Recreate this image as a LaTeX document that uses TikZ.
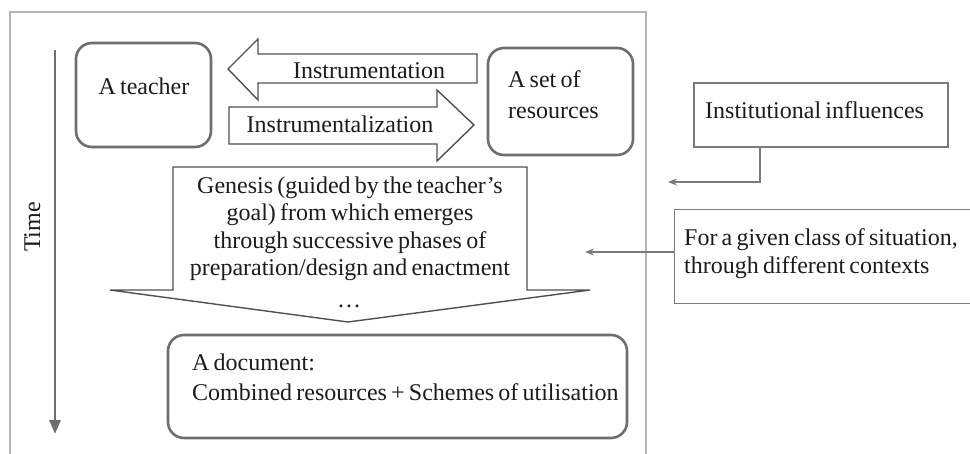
\documentclass[tikz,border=0pt]{standalone}
\usepackage{fontspec}
\setmainfont{Liberation Serif}[WordSpace=0.7]
\usetikzlibrary{arrows.meta}
\definecolor{boxgray}{HTML}{6E6E6E}
\definecolor{shapegray}{HTML}{505050}
\definecolor{framegray}{HTML}{B4B4B4}
\definecolor{linkgray}{HTML}{7A7A7A}
\definecolor{ink}{HTML}{1C1C1C}
\begin{document}
\begin{tikzpicture}[x=1pt,y=-1pt,
  every node/.style={text=ink, font=\fontsize{24pt}{27pt}\selectfont, inner sep=0pt},
  roundbox/.style={draw=boxgray, line width=2.6pt, rounded corners=16pt},
  bigarrow/.style={draw=shapegray, line width=1.4pt, line join=miter},
  infobox/.style={draw=linkgray, line width=1.3pt},
  link/.style={draw=linkgray, line width=1.5pt, -{Stealth[length=9pt,width=7pt]}},
  frameline/.style={draw=framegray, line width=1.2pt}]
\useasboundingbox (0,0) rectangle (970,453);
\clip (0,0) rectangle (970,453);
\fill[white] (0,0) rectangle (970,453);

% outer frame (open at the bottom)
\draw[frameline] (10,470) -- (10,12) -- (646,12) -- (646,470);

% time axis
\draw[draw=boxgray, line width=2.8pt, -{Triangle[length=14pt,width=11pt]}] (55,50) -- (55,434);
\node[rotate=90, anchor=base] (time) at (40,227) {Time};

% actors
\draw[roundbox] (76,43) rectangle (211,147);
\node[anchor=base] (teacher) at (144,94) {A teacher};
\draw[roundbox] (488,48) rectangle (633,155);
\node[anchor=base west] (res1) at (508,87) {A set of};
\node[anchor=base west] (res2) at (508,118) {resources};

% instrumentation / instrumentalization block arrows
\draw[bigarrow] (228,69) -- (258,39) -- (258,54) -- (477,54) -- (477,83)
  -- (258,83) -- (258,100) -- cycle;
\node[anchor=base] (instr) at (369,78) {Instrumentation};
\draw[bigarrow] (229,107) -- (437,107) -- (437,90) -- (474,125) -- (437,161)
  -- (437,144) -- (229,144) -- cycle;
\node[anchor=base] (instrz) at (340,132) {Instrumentalization};

% genesis down arrow
\draw[bigarrow] (173,167) -- (527,167) -- (527,290) -- (590,290) -- (348,322)
  -- (110,290) -- (173,290) -- cycle;
\node[anchor=base] (g1) at (350,193) {Genesis (guided by the teacher’s};
\node[anchor=base] (g2) at (350,220.5) {goal) from which emerges};
\node[anchor=base] (g3) at (350,248) {through successive phases of};
\node[anchor=base] (g4) at (350,275) {preparation/design and enactment};
\node[anchor=base] (g5) at (349,307) {…};

% resulting document
\draw[roundbox] (168,335) rectangle (627,438);
\node[anchor=base west] (doc1) at (192,370) {A document:};
\node[anchor=base west] (doc2) at (192,400) {Combined resources + Schemes of utilisation};

% external influences
\node[infobox, minimum width=254pt, minimum height=64pt] (inst) at (821,115) {};
\node[anchor=base west] (instt) at (705,118) {Institutional influences};
\coordinate (instend) at (668,182);
\draw[link] (inst.south -| 760,0) |- (instend);

\node[infobox, anchor=north west, minimum width=320pt, minimum height=94pt] (ctx) at (674,209) {};
\node[anchor=base west] (ctx1) at (684,245) {For a given class of situation,};
\node[anchor=base west] (ctx2) at (684,273) {through different contexts};
\coordinate (ctxend) at (585,252);
\draw[link] (ctx.west |- ctxend) -- (ctxend);
\end{tikzpicture}
\end{document}
